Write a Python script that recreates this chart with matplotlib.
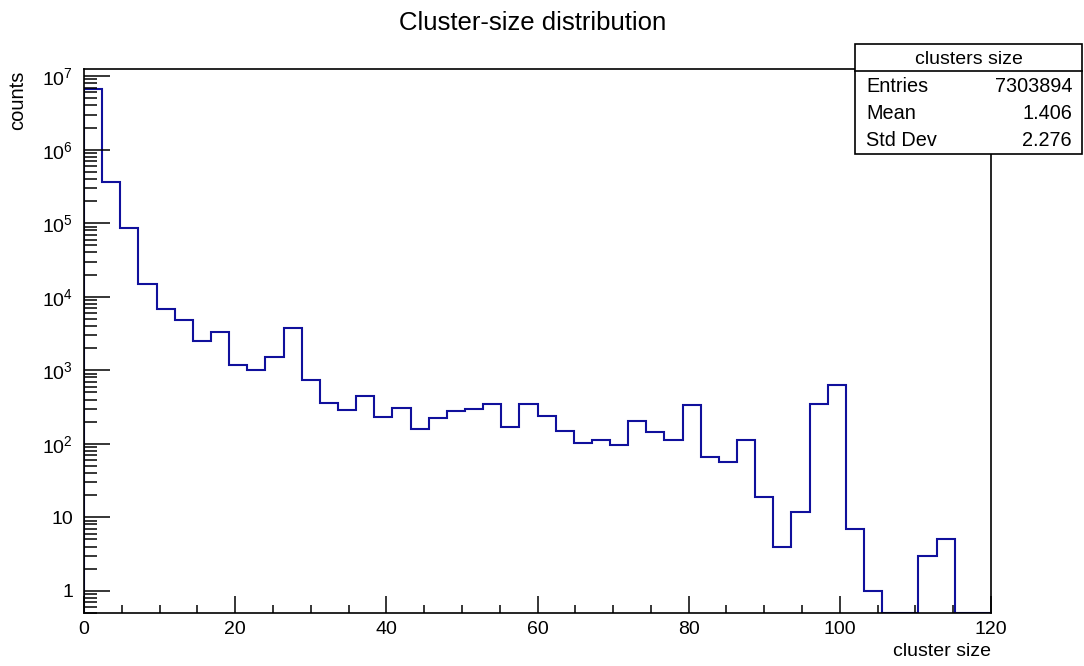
import numpy as np
import matplotlib
matplotlib.use("Agg")
import matplotlib.pyplot as plt
from matplotlib.ticker import MultipleLocator, LogLocator, FuncFormatter, NullFormatter
from matplotlib.patches import Rectangle
from matplotlib.lines import Line2D

plt.rcParams['font.family'] = ['Liberation Sans', 'DejaVu Sans']
plt.rcParams['mathtext.fontset'] = 'custom'
plt.rcParams['mathtext.rm'] = 'Liberation Sans'
plt.rcParams['mathtext.it'] = 'Liberation Sans:italic'

# histogram of cluster sizes, 50 bins between 0 and 120
bin_edges = np.linspace(0, 120, 51)
counts = [6.7e6, 3.6e5, 8.5e4, 1.47e4, 6.9e3, 4.9e3, 2.48e3, 3.3e3, 1.17e3, 1.02e3,
          1.5e3, 3.72e3, 740, 357, 287, 449, 230, 311, 160, 223,
          277, 295, 353, 170, 353, 240, 148, 103, 114, 95,
          207, 144, 114, 334, 67, 57, 113, 19, 4, 12,
          352, 631, 7, 1, 0, 0, 3, 5, 0, 0]

stats_title = 'clusters size'
stats_names = ['Entries', 'Mean', 'Std Dev']
stats_values = ['7303894', '1.406', '2.276']

W, H = 1084, 666
ymin, ymax = 0.5, 1.25e7

fig = plt.figure(figsize=(W / 100, H / 100), dpi=100)
ax = fig.add_axes([84 / W, 1 - 613 / H, (991 - 84) / W, (613 - 69) / H])

vals = np.where(np.array(counts) > 0, counts, ymin)
ax.stairs(vals, bin_edges, baseline=ymin, color='#10109c', lw=1.5)

ax.set_yscale('log')
ax.set_xlim(0, 120)
ax.set_ylim(ymin, ymax)

ax.xaxis.set_major_locator(MultipleLocator(20))
ax.xaxis.set_minor_locator(MultipleLocator(5))
ax.yaxis.set_major_locator(LogLocator(base=10, numticks=20))
ax.yaxis.set_minor_locator(LogLocator(base=10, subs=np.arange(2, 10), numticks=20))
ax.yaxis.set_minor_formatter(NullFormatter())


def ylab(v, pos):
    e = int(round(np.log10(v)))
    if e == 0:
        return '1'
    if e == 1:
        return '10'
    return r'$10^{%d}$' % e


ax.yaxis.set_major_formatter(FuncFormatter(ylab))

ax.tick_params(axis='both', which='both', direction='in', colors='black',
               width=1.1, labelsize=14)
ax.tick_params(axis='x', which='major', length=12, pad=6)
ax.tick_params(axis='x', which='minor', length=6)
ax.tick_params(axis='y', which='major', length=19, pad=8)
ax.tick_params(axis='y', which='minor', length=9.5)
for s in ax.spines.values():
    s.set_linewidth(1.2)

fig.text(532.5 / W, 1 - 23 / H, 'Cluster-size distribution', ha='center',
         va='center', fontsize=18.5)
fig.text(991 / W, 1 - 651 / H, 'cluster size', ha='right', va='center', fontsize=14)
fig.text(18 / W, 1 - 100 / H, 'counts', ha='center', va='center',
         rotation=90, fontsize=14.5)

# stats box in pixel coordinates
bx0, bx1, by0, by1, bsep = 855, 1082, 44, 154, 71


def fx(p):
    return p / W


def fy(p):
    return 1 - p / H


fig.patches.append(Rectangle((fx(bx0), fy(by1)), fx(bx1) - fx(bx0), fy(by0) - fy(by1),
                             transform=fig.transFigure, facecolor='white',
                             edgecolor='black', lw=1.2, zorder=5))
fig.lines.append(Line2D([fx(bx0), fx(bx1)], [fy(bsep), fy(bsep)],
                        transform=fig.transFigure, color='black', lw=1.2, zorder=6))
fig.text(fx((bx0 + bx1) / 2), fy(59), stats_title, ha='center', va='center',
         fontsize=14, zorder=7)
row_y = [86, 113.5, 140]
for name, val, y in zip(stats_names, stats_values, row_y):
    fig.text(fx(bx0 + 11), fy(y), name, ha='left', va='center', fontsize=14.3, zorder=7)
    fig.text(fx(bx1 - 10), fy(y), val, ha='right', va='center', fontsize=14.3, zorder=7)

fig.savefig('out.png', dpi=100)
